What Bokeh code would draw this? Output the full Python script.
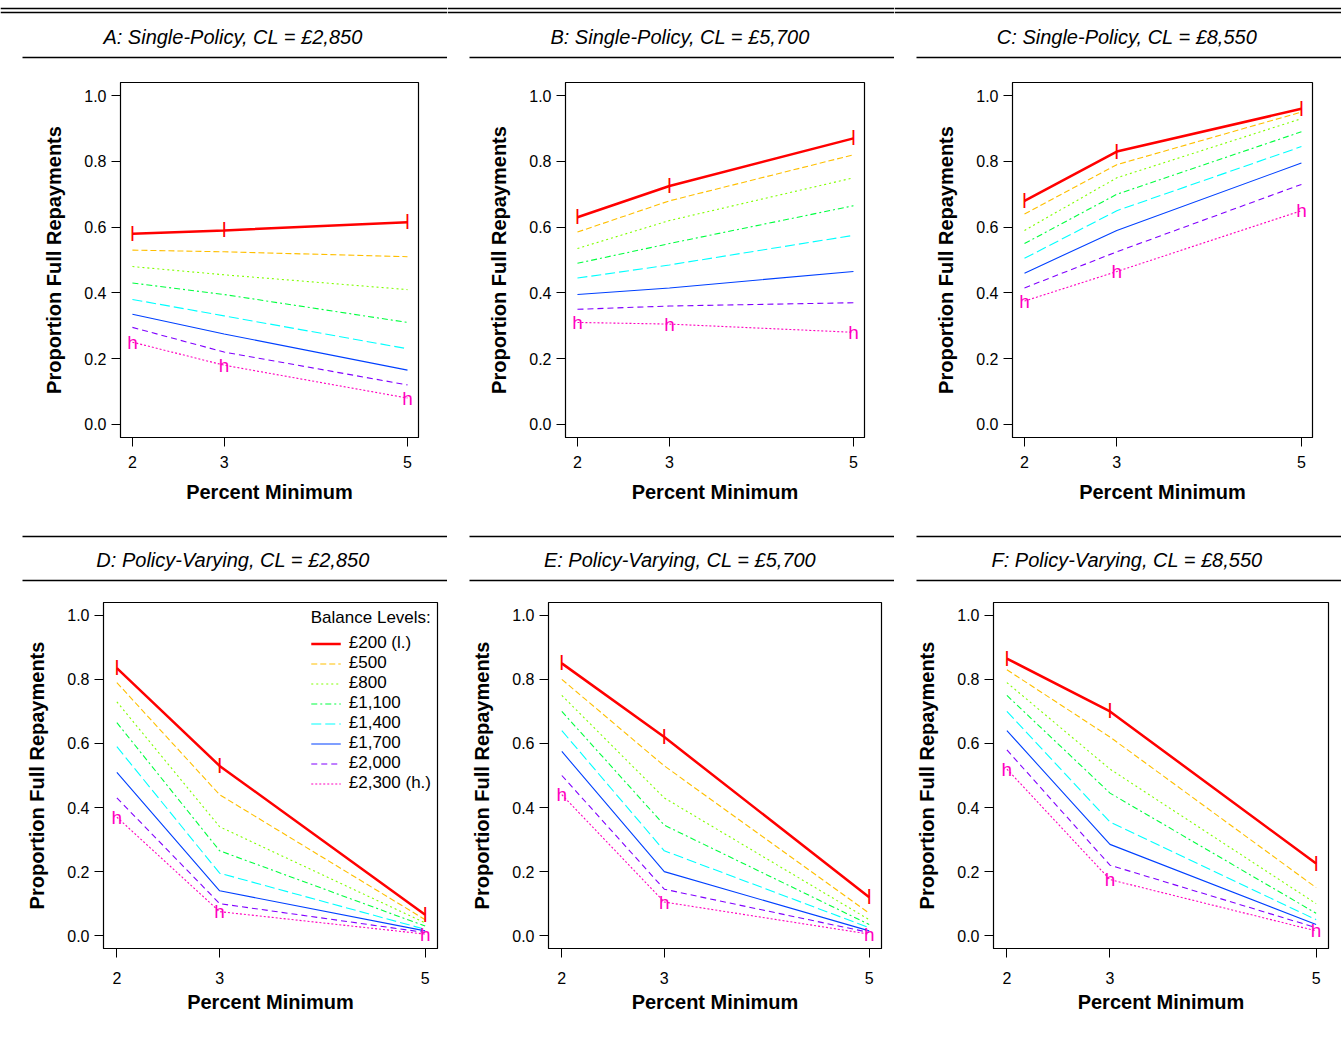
from bokeh.plotting import figure
from bokeh.layouts import column, row
from bokeh.models import Range1d, FixedTicker, Legend, LegendItem, CustomJSTickFormatter
from bokeh.core.properties import value
from bokeh.embed import file_html
from bokeh.resources import INLINE

FONT = "Liberation Sans"
W = 447

pct_min = [2, 3, 5]
levels = ["£200 (l.)", "£500", "£800", "£1,100", "£1,400", "£1,700", "£2,000", "£2,300 (h.)"]
colors = ["#FF0000", "#FFBF00", "#80FF00", "#00FF40", "#00FFFF", "#0040FF", "#8000FF", "#FF00BF"]
dashes = ["solid", "6 3", "2 3", "6 3 2 3", "10 4", "solid", "6 4", "2 2"]
widths = [2.5, 1.1, 1.1, 1.1, 1.1, 1.1, 1.1, 1.1]

titles = ["A: Single-Policy, CL = £2,850", "B: Single-Policy, CL = £5,700", "C: Single-Policy, CL = £8,550",
          "D: Policy-Varying, CL = £2,850", "E: Policy-Varying, CL = £5,700", "F: Policy-Varying, CL = £8,550"]

panel_a = [[.58, .59, .615], [.53, .525, .51], [.48, .455, .41], [.43, .395, .31],
           [.38, .33, .23], [.335, .275, .165], [.295, .22, .12], [.25, .18, .08]]
panel_b = [[.63, .725, .87], [.585, .68, .82], [.535, .62, .75], [.49, .55, .665],
           [.445, .485, .575], [.395, .415, .465], [.35, .36, .37], [.31, .305, .28]]
panel_c = [[.68, .83, .96], [.64, .79, .95], [.59, .75, .93], [.55, .70, .89],
           [.505, .65, .845], [.46, .59, .795], [.415, .525, .73], [.375, .465, .65]]
panel_d = [[.835, .53, .065], [.79, .44, .05], [.73, .34, .04], [.665, .265, .03],
           [.59, .195, .02], [.51, .14, .015], [.43, .10, .01], [.37, .075, .005]]
panel_e = [[.85, .62, .12], [.80, .53, .07], [.75, .43, .05], [.70, .345, .035],
           [.64, .265, .025], [.575, .20, .015], [.50, .145, .01], [.44, .105, .005]]
panel_f = [[.865, .70, .225], [.83, .62, .15], [.79, .52, .10], [.75, .445, .07],
           [.70, .355, .05], [.64, .285, .035], [.58, .22, .025], [.52, .175, .015]]
panels = [panel_a, panel_b, panel_c, panel_d, panel_e, panel_f]

# frame borders (left, right, top, bottom) per panel
borders = [(120, 29, 19, 88), (118, 30, 19, 88), (118, 29, 19, 88),
           (103, 10, 17, 92), (101, 13, 17, 92), (99, 13, 17, 92)]


def strip(title, h, line_ys, full_top=False):
    s = figure(width=W, height=h, x_range=Range1d(0, W), y_range=Range1d(h, 0),
               output_backend="svg", toolbar_location=None, min_border=0)
    s.axis.visible = False
    s.grid.visible = False
    s.outline_line_color = None
    for i, yy in enumerate(line_ys):
        x0 = 0 if (full_top and i < 2) else 22
        s.segment(x0=[x0], y0=[yy], x1=[W], y1=[yy], line_color="black", line_width=1.3)
    s.text(x=[W / 2 + 9], y=[line_ys[-1] - 21], text=[title], text_align="center",
           text_baseline="middle", text_font=value(FONT), text_font_style="italic",
           text_font_size="20px", text_color="black")
    return s


def panel(k):
    l, r, t, b = borders[k]
    h = 462 if k < 3 else 455
    p = figure(width=W, height=h, x_range=Range1d(1.87, 5.12), y_range=Range1d(-0.04, 1.04),
               output_backend="svg", toolbar_location=None,
               min_border_left=l, min_border_right=r, min_border_top=t, min_border_bottom=b)
    p.grid.visible = False
    p.outline_line_color = "black"
    p.outline_line_width = 1.2
    p.xaxis.ticker = FixedTicker(ticks=pct_min)
    p.yaxis.ticker = FixedTicker(ticks=[0, 0.2, 0.4, 0.6, 0.8, 1.0])
    p.yaxis.formatter = CustomJSTickFormatter(code="return tick.toFixed(1);")
    p.xaxis.axis_label = "Percent Minimum"
    p.yaxis.axis_label = "Proportion Full Repayments"
    for ax in (p.xaxis, p.yaxis):
        ax.axis_label_text_font = FONT
        ax.axis_label_text_font_style = "bold"
        ax.axis_label_text_font_size = "20px"
        ax.axis_label_text_color = "black"
        ax.major_label_text_font = FONT
        ax.major_label_text_font_size = "16px"
        ax.major_label_text_color = "black"
        ax.minor_tick_line_color = None
        ax.major_tick_out = 9
        ax.major_tick_in = 0
        ax.axis_line_color = "black"
    p.xaxis.major_label_standoff = 9 if k < 3 else 14
    p.xaxis.axis_label_standoff = 10 if k < 3 else 4
    p.yaxis.axis_label_standoff = 16
    p.yaxis.major_label_orientation = "horizontal"
    items = []
    for i, ys in enumerate(panels[k]):
        ln = p.line(pct_min, ys, line_color=colors[i], line_dash=dashes[i], line_width=widths[i])
        items.append(LegendItem(label=levels[i], renderers=[ln]))
    top, bot = panels[k][0], panels[k][-1]
    p.text(x=pct_min, y=top, text=["l"] * 3, text_color=colors[0], text_align="center",
           text_baseline="middle", text_font=value(FONT), text_font_size="20px")
    p.text(x=pct_min, y=bot, text=["h"] * 3, text_color=colors[-1], text_align="center",
           text_baseline="middle", text_font=value(FONT), text_font_size="19px")
    if k == 3:
        lg = Legend(items=items, location="top_right", title="Balance Levels:")
        lg.border_line_alpha = 0
        lg.background_fill_alpha = 0
        lg.label_text_font = FONT
        lg.label_text_font_size = "17px"
        lg.label_text_color = "black"
        lg.title_text_font = FONT
        lg.title_text_font_size = "17px"
        lg.title_text_font_style = "normal"
        lg.title_text_color = "black"
        lg.label_height = 19
        lg.glyph_height = 19
        lg.glyph_width = 30
        lg.label_standoff = 8
        lg.spacing = 0
        lg.padding = 2
        lg.margin = 4
        p.add_layout(lg)
    return p


top_strips = row(*[strip(titles[i], 63, [8, 12, 57], full_top=True) for i in range(3)])
top_panels = row(*[panel(i) for i in range(3)])
bot_strips = row(*[strip(titles[i], 60, [11, 55]) for i in range(3, 6)])
bot_panels = row(*[panel(i) for i in range(3, 6)])
p = column(top_strips, top_panels, bot_strips, bot_panels, spacing=0)

open("out.html", "w").write(file_html(p, INLINE))
